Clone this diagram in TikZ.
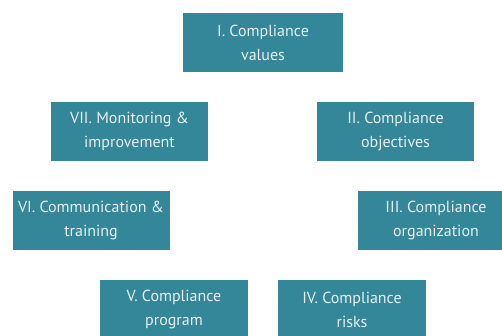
\documentclass[tikz,border=0pt]{standalone}
\usepackage{fontspec}
\setmainfont{PT Sans}
\definecolor{boxfill}{HTML}{338799}
\definecolor{boxtext}{HTML}{E8F0F1}
\begin{document}
\begin{tikzpicture}[x=1pt,y=-1pt,
  stagebox/.style={fill=boxfill, text=boxtext, align=center,
    minimum width=157pt, minimum height=59pt, inner sep=0pt,
    font=\fontsize{16}{24}\selectfont},
  narrowbox/.style={stagebox, minimum width=148pt}]
\useasboundingbox (0,0) rectangle (502,335);
\clip (0,0) rectangle (502,335);
\node[stagebox, minimum width=160pt] (s1) at (263,42.5) {I. Compliance\\values};
\node[stagebox] (s7) at (129.5,131.5) {VII. Monitoring \&\\improvement};
\node[stagebox] (s2) at (395.5,131.5) {II. Compliance\\objectives};
\node[stagebox] (s6) at (91,220.5) {VI. Communication \&\\training};
\node[stagebox] (s3) at (436,220.5) {III. Compliance\\organization};
\node[narrowbox] (s5) at (174,309.5) {V. Compliance\\program};
\node[narrowbox] (s4) at (352,309.5) {IV. Compliance\\risks};
\end{tikzpicture}
\end{document}
